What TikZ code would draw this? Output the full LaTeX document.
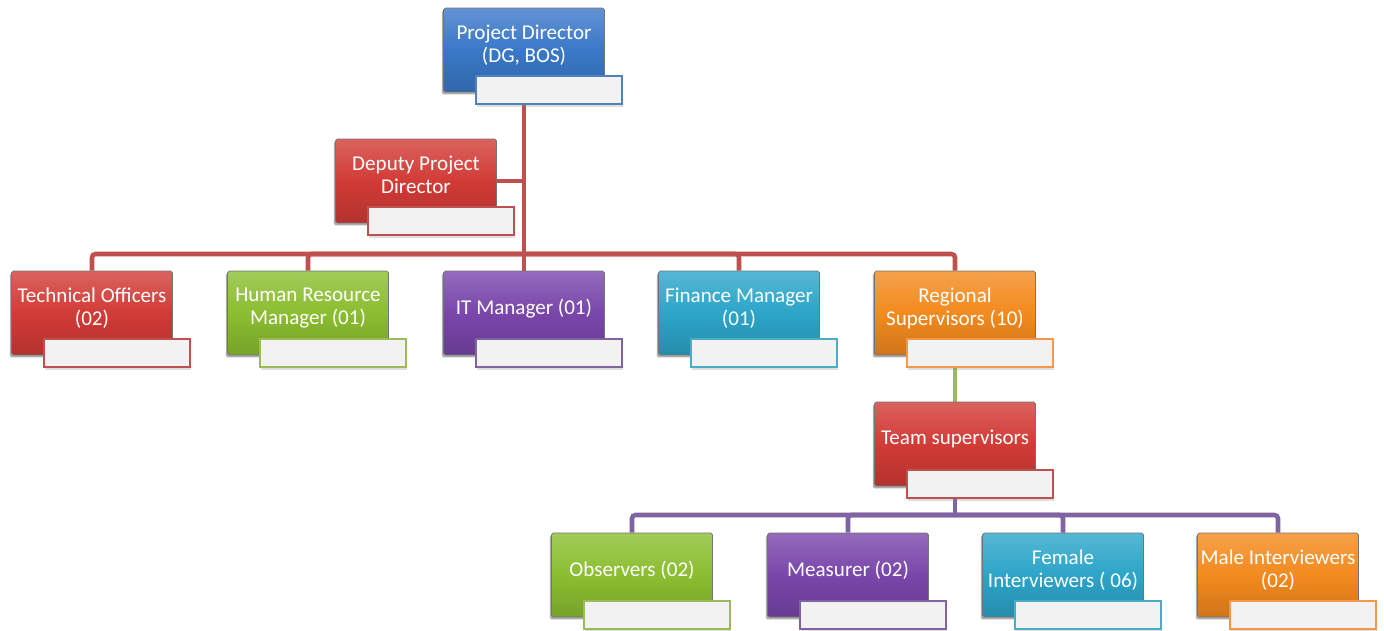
\documentclass[tikz,border=0pt]{standalone}
\usepackage{fontspec}
\setmainfont{Carlito}
\usepackage{tikz}
\usetikzlibrary{positioning,shadows,backgrounds}

\definecolor{pdblue}{HTML}{3A78C8}
\definecolor{boxred}{HTML}{D23B36}
\definecolor{boxgreen}{HTML}{8BBE30}
\definecolor{boxpurple}{HTML}{7946AA}
\definecolor{boxcyan}{HTML}{2CA5C9}
\definecolor{boxorange}{HTML}{F38A1E}
\definecolor{lineblue}{HTML}{4F81BD}
\definecolor{linered}{HTML}{C0504D}
\definecolor{linegreen}{HTML}{9BBB59}
\definecolor{linepurple}{HTML}{8064A2}
\definecolor{linecyan}{HTML}{4BACC6}
\definecolor{lineorange}{HTML}{F79646}

\begin{document}
\begin{tikzpicture}[
			x=0.02cm, y=-0.02cm,
			box/.style={draw=black!55, rounded corners=1pt, align=center, text=white,
				minimum width=3.22cm, minimum height=1.68cm, inner sep=1pt, text depth=7.5pt,
				font=\fontsize{12}{13.2}\selectfont,
				top color=#1!80!white, bottom color=#1!85!black, middle color=#1,
				drop shadow={shadow xshift=-1pt, shadow yshift=-1.4pt, opacity=0.65}},
			tag/.style={draw=#1, line width=0.9pt, fill=black!5, anchor=north west,
				minimum width=2.92cm, minimum height=0.56cm, inner sep=0pt,
				drop shadow={shadow xshift=0.8pt, shadow yshift=-1.5pt, opacity=0.25}},
			link/.style={draw=#1, line width=2.6pt, rounded corners=2pt}
			]
			\useasboundingbox (0,0) rectangle (1384,631);
			
			%==================== top ====================
			\node[box=pdblue] (pdir) at (524,50) {Project Director\\(DG, BOS)};
			\node[tag=lineblue] (pdir-tag) at ([shift={(32,-17)}]pdir.south west) {};
			
			\node[box=boxred] (deputy) at (416,181) {Deputy Project\\Director};
			\node[tag=linered] (deputy-tag) at ([shift={(32,-17)}]deputy.south west) {};
			
			%==================== managers ====================
			\node[box=boxred] (tech) at (92,313) {Technical Officers\\(02)};
			\node[box=boxgreen] (hr) at (308,313) {Human Resource\\Manager (01)};
			\node[box=boxpurple] (itm) at (524,313) {IT Manager (01)};
			\node[box=boxcyan] (fin) at (739,313) {Finance Manager\\(01)};
			\node[box=boxorange] (reg) at (955,313) {Regional\\Supervisors (10)};
			
			\node[tag=linered] (tech-tag) at ([shift={(32,-17)}]tech.south west) {};
			\node[tag=linegreen] (hr-tag) at ([shift={(32,-17)}]hr.south west) {};
			\node[tag=linepurple] (itm-tag) at ([shift={(32,-17)}]itm.south west) {};
			\node[tag=linecyan] (fin-tag) at ([shift={(32,-17)}]fin.south west) {};
			\node[tag=lineorange] (reg-tag) at ([shift={(32,-17)}]reg.south west) {};
			
			%==================== field team ====================
			\node[box=boxred] (team) at (955,444) {Team supervisors};
			\node[tag=linered] (team-tag) at ([shift={(32,-17)}]team.south west) {};
			
			\node[box=boxgreen] (obs) at (632,575) {Observers (02)};
			\node[box=boxpurple] (meas) at (848,575) {Measurer (02)};
			\node[box=boxcyan] (fem) at (1063,575) {Female\\Interviewers ( 06)};
			\node[box=boxorange] (male) at (1278,575) {Male Interviewers\\(02)};
			
			\node[tag=linegreen] (obs-tag) at ([shift={(32,-17)}]obs.south west) {};
			\node[tag=linepurple] (meas-tag) at ([shift={(32,-17)}]meas.south west) {};
			\node[tag=linecyan] (fem-tag) at ([shift={(32,-17)}]fem.south west) {};
			\node[tag=lineorange] (male-tag) at ([shift={(32,-17)}]male.south west) {};
			
			%==================== links ====================
			\begin{scope}[on background layer]
				\coordinate (bus1) at (0,254);
				\coordinate (bus2) at (0,515);
				\draw[link=linered] (pdir.south) -- (pdir |- bus1);
				\draw[link=linered] (deputy.east) -- (deputy.east -| pdir);
				\foreach \n in {tech,hr,itm,fin,reg}
				\draw[link=linered] (pdir |- bus1) -| (\n.north);
				\draw[link=linegreen] (reg.south) -- (team.north);
				\draw[link=linepurple] (team.south) -- (team |- bus2);
				\foreach \n in {obs,meas,fem,male}
				\draw[link=linepurple] (team |- bus2) -| (\n.north);
			\end{scope}
			
		\end{tikzpicture}
\end{document}
